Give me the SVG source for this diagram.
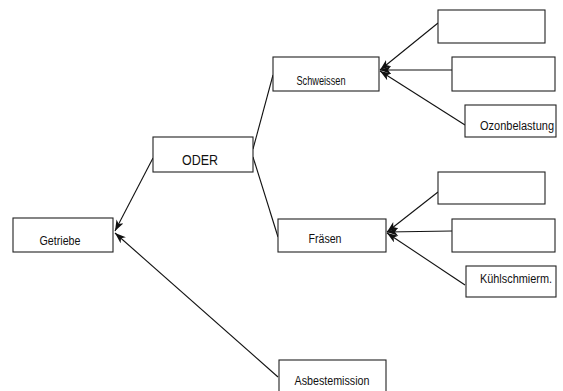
<svg xmlns="http://www.w3.org/2000/svg" width="563" height="391" viewBox="0 0 563 391">
  <style>
    .box { fill: #fff; stroke: #222; stroke-width: 1.1; }
    .lbl { font-family: "Liberation Sans", Arial, sans-serif; font-size: 12.5px; fill: #111; text-anchor: middle; }
    .big { font-size: 14.5px; }
    .edge { fill: none; stroke: #111; stroke-width: 1.1; }
  </style>
  <defs>
    <marker id="arrow" markerUnits="userSpaceOnUse" markerWidth="12" markerHeight="10" refX="11" refY="4" orient="auto">
      <path d="M0,0 L11,4 L0,8 L3,4 Z" fill="#111"/>
    </marker>
  </defs>
  <rect width="563" height="391" fill="#fff"/>

  <g id="connectors">
    <line class="edge" x1="153" y1="158" x2="115" y2="231" marker-end="url(#arrow)"/>
    <line class="edge" x1="278" y1="377" x2="115" y2="233" marker-end="url(#arrow)"/>
    <line class="edge" x1="253" y1="149" x2="273" y2="75"/>
    <line class="edge" x1="253" y1="157" x2="278" y2="237"/>
    <line class="edge" x1="438" y1="23" x2="380" y2="70" marker-end="url(#arrow)"/>
    <line class="edge" x1="452" y1="70" x2="380" y2="70" marker-end="url(#arrow)"/>
    <line class="edge" x1="465" y1="125" x2="380" y2="71" marker-end="url(#arrow)"/>
    <line class="edge" x1="438" y1="192" x2="387" y2="232" marker-end="url(#arrow)"/>
    <line class="edge" x1="452" y1="231" x2="387" y2="232" marker-end="url(#arrow)"/>
    <line class="edge" x1="465" y1="285" x2="387" y2="233" marker-end="url(#arrow)"/>
  </g>

  <g id="getriebe">
    <rect class="box" x="13" y="218" width="100" height="34"/>
    <text class="lbl" x="60" y="245" textLength="41" lengthAdjust="spacingAndGlyphs">Getriebe</text>
  </g>
  <g id="oder">
    <rect class="box" x="153" y="137" width="100" height="35"/>
    <text class="lbl big" x="200" y="165" textLength="36" lengthAdjust="spacingAndGlyphs">ODER</text>
  </g>
  <g id="schweissen">
    <rect class="box" x="273" y="57" width="106" height="34"/>
    <text class="lbl" x="321" y="85" textLength="49" lengthAdjust="spacingAndGlyphs">Schweissen</text>
  </g>
  <g id="fraesen">
    <rect class="box" x="278" y="219" width="108" height="33"/>
    <text class="lbl" x="325" y="243" textLength="33" lengthAdjust="spacingAndGlyphs">Fräsen</text>
  </g>
  <g id="schweissen-1">
    <rect class="box" x="438" y="10" width="107" height="33"/>
  </g>
  <g id="schweissen-2">
    <rect class="box" x="452" y="57" width="103" height="34"/>
  </g>
  <g id="ozonbelastung">
    <rect class="box" x="465" y="105" width="91" height="32"/>
    <text class="lbl" x="517" y="130" textLength="74" lengthAdjust="spacingAndGlyphs">Ozonbelastung</text>
  </g>
  <g id="fraesen-1">
    <rect class="box" x="438" y="172" width="107" height="32"/>
  </g>
  <g id="fraesen-2">
    <rect class="box" x="452" y="219" width="103" height="33"/>
  </g>
  <g id="kuehlschmierm">
    <rect class="box" x="466" y="266" width="90" height="31"/>
    <text class="lbl" x="516" y="283" textLength="72" lengthAdjust="spacingAndGlyphs">Kühlschmierm.</text>
  </g>
  <g id="asbestemission">
    <rect class="box" x="279" y="360" width="107" height="40"/>
    <text class="lbl" x="332" y="385" textLength="75" lengthAdjust="spacingAndGlyphs">Asbestemission</text>
  </g>
</svg>
